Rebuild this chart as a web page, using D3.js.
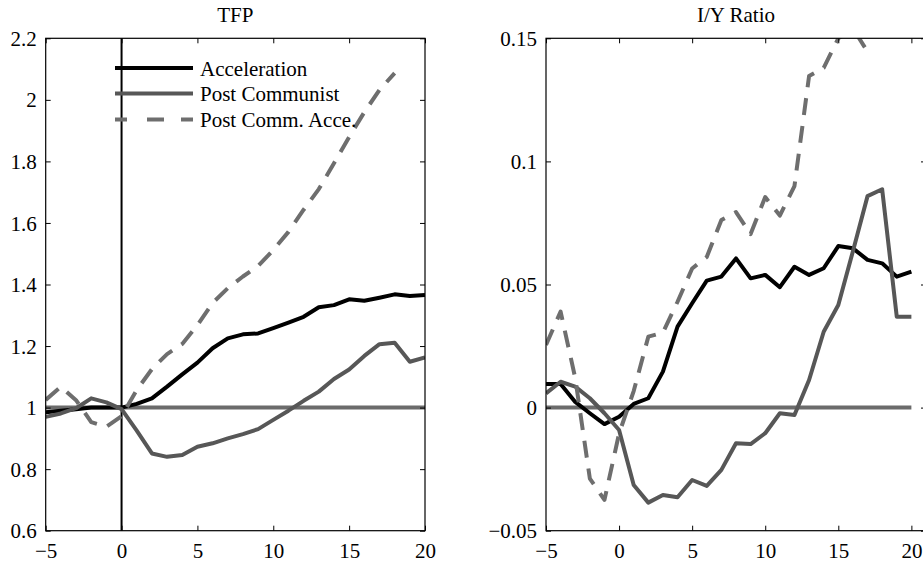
<!DOCTYPE html>
<html>
<head>
<meta charset="utf-8">
<script src="https://cdn.jsdelivr.net/npm/d3@7"></script>
<style>
  html, body { margin: 0; padding: 0; background: #fff; }
  svg { display: block; }
</style>
</head>
<body>
<svg id="chart" width="923" height="563"></svg>
<script>
// Event time (years relative to the acceleration, 0 = start)
const periods = [-5, -4, -3, -2, -1, 0, 1, 2, 3, 4, 5, 6, 7, 8, 9, 10, 11, 12, 13, 14, 15, 16, 17, 18, 19, 20];

// TFP (index, 1 = start of episode)
const tfpAcceleration = [0.985, 0.990, 0.995, 1.000, 1.000, 1.000, 1.012, 1.030, 1.068, 1.108, 1.146, 1.193, 1.225, 1.238, 1.241, 1.258, 1.276, 1.295, 1.326, 1.333, 1.352, 1.347, 1.357, 1.368, 1.363, 1.366];
const tfpPostCommunist = [0.970, 0.981, 0.998, 1.030, 1.017, 0.995, 0.925, 0.851, 0.840, 0.846, 0.873, 0.884, 0.900, 0.914, 0.930, 0.960, 0.990, 1.022, 1.052, 1.093, 1.124, 1.168, 1.206, 1.211, 1.149, 1.163];
const tfpPostCommAccel = [1.025, 1.068, 1.024, 0.953, 0.938, 0.972, 1.057, 1.125, 1.174, 1.207, 1.268, 1.340, 1.388, 1.426, 1.460, 1.512, 1.571, 1.643, 1.710, 1.794, 1.879, 1.960, 2.032, 2.087, null, null];

// Investment / output ratio (deviation from start)
const iyAcceleration = [0.0096, 0.0096, 0.0023, -0.0023, -0.0067, -0.0037, 0.0015, 0.0038, 0.0146, 0.0329, 0.0424, 0.0516, 0.0532, 0.0606, 0.0525, 0.0539, 0.0489, 0.0572, 0.0539, 0.0566, 0.0656, 0.0647, 0.0600, 0.0586, 0.0532, 0.0552];
const iyPostCommunist = [0.0058, 0.0105, 0.0085, 0.0038, -0.0023, -0.0091, -0.0314, -0.0386, -0.0355, -0.0364, -0.0294, -0.0318, -0.0253, -0.0145, -0.0148, -0.0104, -0.0023, -0.0030, 0.0112, 0.0308, 0.0417, 0.0635, 0.0859, 0.0887, 0.0369, 0.0369];
const iyPostCommAccel = [0.0254, 0.0390, 0.0120, -0.0288, -0.0375, -0.0105, 0.0067, 0.0288, 0.0305, 0.0430, 0.0565, 0.0612, 0.0762, 0.0794, 0.0705, 0.0855, 0.0780, 0.0900, 0.1347, 0.1380, 0.1500, 0.1540, 0.1446, null, null, null];

// Axis ticks and labels
const xTicks = [-5, 0, 5, 10, 15, 20];
const xTickLabels = ["\u22125", "0", "5", "10", "15", "20"];
const tfpTicks = [0.6, 0.8, 1, 1.2, 1.4, 1.6, 1.8, 2, 2.2];
const tfpTickLabels = ["0.6", "0.8", "1", "1.2", "1.4", "1.6", "1.8", "2", "2.2"];
const iyTicks = [-0.05, 0, 0.05, 0.1, 0.15];
const iyTickLabels = ["\u22120.05", "0", "0.05", "0.1", "0.15"];

const seriesNames = ["Acceleration", "Post Communist", "Post Comm. Acce."];

const styles = [
  { color: "#000000", dash: null },
  { color: "#575757", dash: null },
  { color: "#6e6e6e", dash: "17,11" }
];

const svg = d3.select("#chart");
const plotTop = 38.3, plotBottom = 530.7;
const fontSize = 21;
const fontFamily = "'Liberation Serif', 'Times New Roman', serif";

function panel(opts) {
  const x = d3.scaleLinear().domain(opts.xDomain).range(opts.xRange);
  const y = d3.scaleLinear().domain(opts.yDomain).range([plotBottom, plotTop]);
  const g = svg.append("g");
  const x0 = opts.xRange[0], x1 = opts.xRange[1];

  const clipId = "clip-" + opts.id;
  svg.append("defs").append("clipPath").attr("id", clipId)
    .append("rect").attr("x", x0).attr("y", plotTop).attr("width", x1 - x0).attr("height", plotBottom - plotTop);

  // reference level
  g.append("line")
    .attr("x1", x(-5)).attr("x2", x(20))
    .attr("y1", y(opts.baseline)).attr("y2", y(opts.baseline))
    .attr("stroke", "#6b6b6b").attr("stroke-width", 4);

  if (opts.eventLine) {
    g.append("line")
      .attr("x1", x(0)).attr("x2", x(0)).attr("y1", plotTop).attr("y2", plotBottom)
      .attr("stroke", "#000").attr("stroke-width", 2);
  }

  const line = d3.line()
    .defined(d => d[1] !== null)
    .x(d => x(d[0])).y(d => y(d[1]));

  const lines = g.append("g").attr("clip-path", `url(#${clipId})`);
  opts.series.forEach((vals, i) => {
    const pts = periods.map((p, k) => [p, vals[k]]);
    lines.append("path")
      .datum(pts)
      .attr("d", line)
      .attr("fill", "none")
      .attr("stroke", styles[i].color)
      .attr("stroke-width", 4)
      .attr("stroke-linejoin", "round")
      .attr("stroke-dasharray", styles[i].dash);
  });

  // axes
  const xTickFmt = d => xTickLabels[xTicks.indexOf(d)];
  const yTickFmt = d => opts.yTickLabels[opts.yTicks.indexOf(d)];

  const axB = g.append("g").attr("transform", `translate(0,${plotBottom})`)
    .call(d3.axisBottom(x).tickValues(xTicks).tickFormat(xTickFmt).tickSize(-5).tickPadding(12));
  const axT = g.append("g").attr("transform", `translate(0,${plotTop})`)
    .call(d3.axisTop(x).tickValues(xTicks).tickFormat("").tickSize(-5));
  const axL = g.append("g").attr("transform", `translate(${x0},0)`)
    .call(d3.axisLeft(y).tickValues(opts.yTicks).tickFormat(yTickFmt).tickSize(-5).tickPadding(9));
  const axR = g.append("g").attr("transform", `translate(${x1},0)`)
    .call(d3.axisRight(y).tickValues(opts.yTicks).tickFormat("").tickSize(-5));

  [axB, axT, axL, axR].forEach(a => {
    a.select(".domain").remove();
    a.attr("font-family", fontFamily).attr("font-size", fontSize);
    a.selectAll("line").attr("stroke", "#000").attr("stroke-width", 1);
    a.selectAll("text").attr("fill", "#000");
  });
  axL.selectAll("text").attr("dy", "0.34em");

  g.append("rect")
    .attr("x", x0).attr("y", plotTop).attr("width", x1 - x0).attr("height", plotBottom - plotTop)
    .attr("fill", "none").attr("stroke", "#000").attr("stroke-width", 1.2);

  g.append("text")
    .attr("x", (x0 + x1) / 2).attr("y", 22)
    .attr("text-anchor", "middle")
    .text(opts.title);

  return { g, x, y };
}

panel({
  id: "tfp", title: "TFP",
  xDomain: [-5, 20], xRange: [45.7, 425],
  yDomain: [0.6, 2.2], yTicks: tfpTicks, yTickLabels: tfpTickLabels,
  baseline: 1, eventLine: true,
  series: [tfpAcceleration, tfpPostCommunist, tfpPostCommAccel]
});

panel({
  id: "iy", title: "I/Y Ratio",
  xDomain: [-5, 21], xRange: [546, 926],
  yDomain: [-0.05, 0.15], yTicks: iyTicks, yTickLabels: iyTickLabels,
  baseline: 0, eventLine: false,
  series: [iyAcceleration, iyPostCommunist, iyPostCommAccel]
});

// legend (inside the TFP panel)
const legend = svg.append("g");
const legendRows = [68, 93.5, 119.5];
seriesNames.forEach((name, i) => {
  legend.append("line")
    .attr("x1", 115).attr("x2", 193)
    .attr("y1", legendRows[i]).attr("y2", legendRows[i])
    .attr("stroke", styles[i].color).attr("stroke-width", 4)
    .attr("stroke-dasharray", styles[i].dash ? "12,20,17,17,13" : null);
  legend.append("text")
    .attr("x", 200).attr("y", legendRows[i] + 7.5)
    .text(name);
});

// every label in the same serif face
svg.selectAll("text")
  .attr("font-family", fontFamily)
  .attr("font-size", fontSize)
  .attr("fill", "#000");
</script>
</body>
</html>
